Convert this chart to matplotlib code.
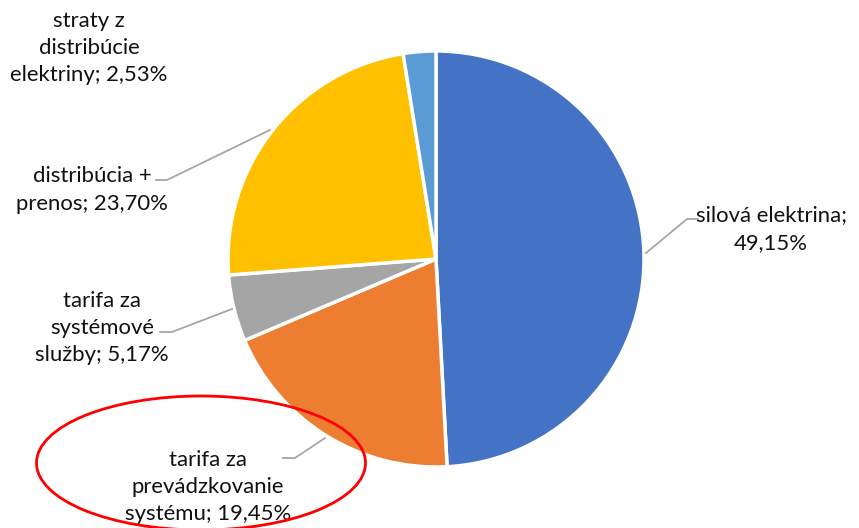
import matplotlib
matplotlib.use("Agg")
import matplotlib.pyplot as plt
from matplotlib.patches import Ellipse

labels = ["silová elektrina", "tarifa za\nprevádzkovanie\nsystému",
          "tarifa za\nsystémové\nslužby", "distribúcia +\nprenos",
          "straty z\ndistribúcie\nelektriny"]
values = [49.15, 19.45, 5.17, 23.70, 2.53]
colors = ["#4472C4", "#ED7D31", "#A5A5A5", "#FFC000", "#5B9BD5"]

W, H = 859, 528
fig = plt.figure(figsize=(W / 100, H / 100), dpi=100)
ax = fig.add_axes([0, 0, 1, 1])

cx, cy, r = 436, H - 259, 208
ax.pie(values, colors=colors, startangle=90, counterclock=False,
       center=(cx, cy), radius=r, frame=True,
       wedgeprops=dict(edgecolor="white", linewidth=2.5))
ax.set_xlim(0, W)
ax.set_ylim(0, H)
ax.set_aspect("equal")
ax.axis("off")

def fmt(v):
    return f"{v:.2f}".replace(".", ",") + "%"

label_texts = [
    "silová elektrina;\n" + fmt(values[0]),
    "tarifa za\nprevádzkovanie\nsystému; " + fmt(values[1]),
    "tarifa za\nsystémové\nslužby; " + fmt(values[2]),
    "distribúcia +\nprenos; " + fmt(values[3]),
    "straty z\ndistribúcie\nelektriny; " + fmt(values[4]),
]
label_pos = [(771, 229), (208, 487), (102, 328), (92, 190), (89, 48)]
leaders = [
    [(646, 253), (687, 219), (698, 219)],
    [(325, 438), (295, 458), (283, 458)],
    [(232, 309), (172, 332), (160, 332)],
    [(270, 130), (167, 180), (156, 180)],
    None,
]

for txt, (x, y), ld in zip(label_texts, label_pos, leaders):
    ax.text(x, H - y, txt, ha="center", va="center", fontsize=15.9,
            family="Lato", color="#111111", linespacing=1.45, zorder=5)
    if ld:
        xs = [p[0] for p in ld]
        ys = [H - p[1] for p in ld]
        ax.plot(xs, ys, color="#A6A6A6", lw=1.3, zorder=4)

ax.add_patch(Ellipse((201, H - 463), 329, 134, fill=False,
                     edgecolor="#FF0000", lw=2, zorder=6))

fig.savefig("out.png", dpi=100)
